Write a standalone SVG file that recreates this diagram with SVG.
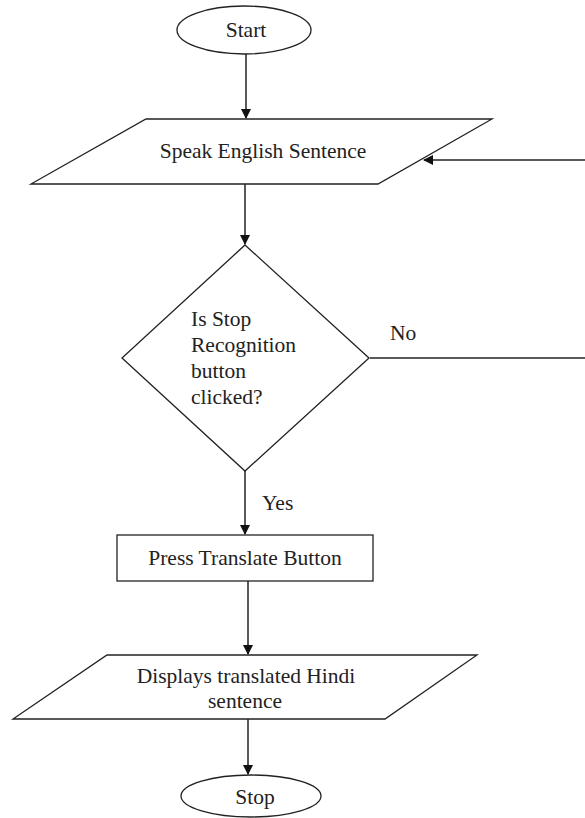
<svg xmlns="http://www.w3.org/2000/svg" width="585" height="818" viewBox="0 0 585 818">
<defs>
<marker id="ah" markerWidth="10" markerHeight="10" refX="9" refY="5" orient="auto" markerUnits="userSpaceOnUse">
<path d="M0,0 L10,5 L0,10 Z" fill="#111"/>
</marker>
<style>
.s{fill:#fff;stroke:#222;stroke-width:1.3}
.t{font-size:21.5px;fill:#222}
.c{stroke:#222;stroke-width:1.5;fill:none}
.m{text-anchor:middle}
</style>
</defs>
<rect width="585" height="818" fill="#fff"/>
<g font-family="'Liberation Serif', 'DejaVu Serif', serif">
<g id="connectors">
<line class="c" x1="246" y1="54" x2="246" y2="118" marker-end="url(#ah)"/>
<line class="c" x1="585" y1="160" x2="424" y2="160" marker-end="url(#ah)"/>
<line class="c" x1="245" y1="184" x2="245" y2="244" marker-end="url(#ah)"/>
<line class="c" x1="370" y1="358" x2="585" y2="358" stroke="#555"/>
<line class="c" x1="245" y1="471" x2="245" y2="534" marker-end="url(#ah)"/>
<line class="c" x1="248" y1="581" x2="248" y2="654" marker-end="url(#ah)"/>
<line class="c" x1="248" y1="719" x2="248" y2="774" marker-end="url(#ah)"/>
<text class="t" x="390" y="340">No</text>
<text class="t" x="262" y="510">Yes</text>
</g>
<g id="start">
<ellipse class="s" cx="244" cy="30" rx="67" ry="24"/>
<text class="t m" x="246" y="37">Start</text>
</g>
<g id="speak">
<polygon class="s" points="146,119 492,119 378,184 31,184"/>
<text class="t m" x="263" y="158">Speak English Sentence</text>
</g>
<g id="decision">
<polygon class="s" points="245,245 369,358 245,471 122,358"/>
<text class="t" x="191" y="326">Is Stop</text>
<text class="t" x="191" y="352">Recognition</text>
<text class="t" x="191" y="378">button</text>
<text class="t" x="191" y="404">clicked?</text>
</g>
<g id="translate">
<rect class="s" x="117" y="535" width="256" height="46"/>
<text class="t m" x="245" y="565">Press Translate Button</text>
</g>
<g id="display">
<polygon class="s" points="107,655 477,655 385,719 13,719"/>
<text class="t m" x="246" y="683">Displays translated Hindi</text>
<text class="t m" x="245" y="708">sentence</text>
</g>
<g id="stop">
<ellipse class="s" cx="251" cy="796" rx="70" ry="21"/>
<text class="t m" x="255" y="804">Stop</text>
</g>
</g>
</svg>
